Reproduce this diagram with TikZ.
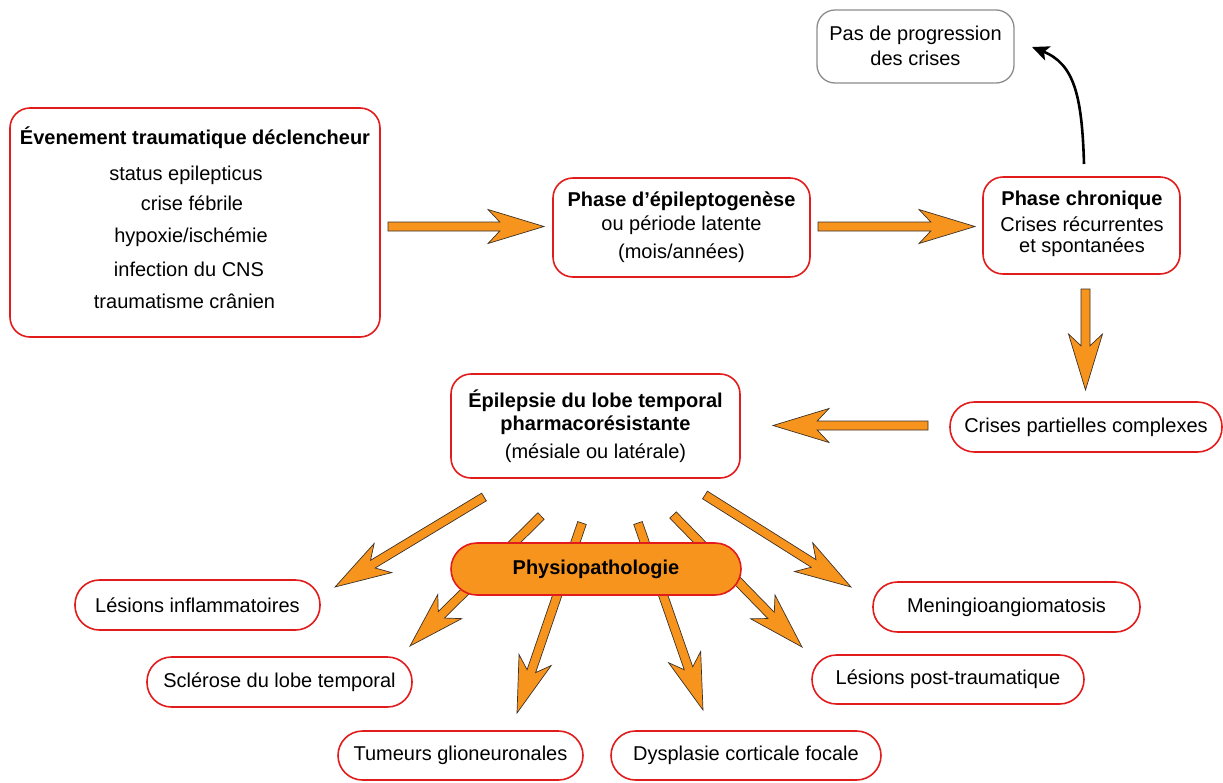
\documentclass[tikz,border=0pt]{standalone}
\usepackage{fontspec}
\setmainfont{Liberation Sans}
\usetikzlibrary{calc,arrows.meta}
\definecolor{bred}{RGB}{226,28,28}
\definecolor{orng}{RGB}{247,148,30}
\definecolor{outl}{RGB}{60,50,40}
\definecolor{gbord}{RGB}{140,140,140}
\tikzset{
  box/.style={draw=bred, line width=1.6pt, rounded corners=20pt, fill=white, inner sep=0pt},
  graybox/.style={draw=gbord, line width=1.3pt, rounded corners=18pt, fill=white, inner sep=0pt},
  pill/.style={draw=bred, line width=1.6pt, rounded corners=24.5pt, fill=white, inner sep=0pt,
     font=\fontsize{20}{24}\selectfont},
  phys/.style={draw=bred, line width=1.6pt, rounded corners=26pt, fill=orng, inner sep=0pt,
     font=\fontsize{20}{24}\selectfont\bfseries},
  fat/.style={draw=outl, line width=0.7pt, fill=orng, line join=miter},
  txt/.style={font=\fontsize{20}{24}\selectfont, inner sep=0pt},
  btxt/.style={font=\fontsize{20}{24}\selectfont\bfseries, inner sep=0pt},
  curv/.style={line width=2.6pt, -{Stealth[length=17pt,width=15pt,inset=4pt]}},
}
\newcommand\fatarrow[2]{%
  \path let \p1=($(#2)-(#1)$) in \pgfextra{%
    \pgfmathsetmacro\faang{atan2(\y1,\x1)}%
    \pgfmathsetmacro\falen{veclen(\x1,\y1)}%
    \global\let\faang\faang \global\let\falen\falen};
  \draw[fat,shift={(#1)},rotate=\faang,x=1pt,y=1pt]
    (0,-4.5) -- ({\falen-44.2},-4.5) -- ({\falen-56},-17) -- (\falen,0)
    -- ({\falen-56},17) -- ({\falen-44.2},4.5) -- (0,4.5) -- cycle;
}
\begin{document}
\begin{tikzpicture}[x=1pt,y=-1pt]
\useasboundingbox (0,0) rectangle (1223,782);
% arrow end points
\coordinate (a1s) at (388,226.5);  \coordinate (a1e) at (544,226.5);
\coordinate (a2s) at (818,226.5);  \coordinate (a2e) at (975,226.5);
\coordinate (a3s) at (1085.5,289); \coordinate (a3e) at (1085.5,390);
\coordinate (a4s) at (928,425.5);  \coordinate (a4e) at (773,425.5);
\coordinate (ras) at (484,497);    \coordinate (rae) at (335,587);
\coordinate (rbs) at (541,516);    \coordinate (rbe) at (410,646);
\coordinate (rcs) at (582,523);    \coordinate (rce) at (517,713);
\coordinate (rds) at (638,523);    \coordinate (rde) at (703,710);
\coordinate (res) at (673,515);    \coordinate (ree) at (802,647);
\coordinate (rfs) at (705,495);    \coordinate (rfe) at (851,587);
\coordinate (cs) at (1084,164);    \coordinate (ce) at (1032,47);

\fatarrow{a1s}{a1e}
\fatarrow{a2s}{a2e}
\fatarrow{a3s}{a3e}
\fatarrow{a4s}{a4e}
\fatarrow{ras}{rae}
\fatarrow{rbs}{rbe}
\fatarrow{rcs}{rce}
\fatarrow{rds}{rde}
\fatarrow{res}{ree}
\fatarrow{rfs}{rfe}

% boxes
\node[box, minimum width=370pt, minimum height=229pt] (evt) at (195,222.5) {};
\node[btxt] (evt0) at (195,138) {Évenement traumatique déclencheur};
\node[txt] (evt1) at (186,175) {status epilepticus};
\node[txt] (evt2) at (192,203) {crise fébrile};
\node[txt] (evt3) at (191,237) {hypoxie/ischémie};
\node[txt] (evt4) at (189,269) {infection du CNS};
\node[txt] (evt5) at (184.5,301) {traumatisme crânien};

\node[box, minimum width=257pt, minimum height=99pt] (epi) at (681.5,227.5) {};
\node[btxt] (epi0) at (681.5,201) {Phase d’épileptogenèse};
\node[txt] (epi1) at (681.5,225) {ou période latente};
\node[txt] (epi2) at (681.5,253) {(mois/années)};

\node[box, minimum width=197pt, minimum height=97pt] (chr) at (1081.5,225.5) {};
\node[btxt] (chr0) at (1082,200) {Phase chronique};
\node[txt] (chr1) at (1082,224) {Crises récurrentes};
\node[txt] (chr2) at (1082,247) {et spontanées};

\node[graybox, minimum width=197pt, minimum height=73pt] (pas) at (915.5,46.5) {};
\node[txt] (pas0) at (915.5,35) {Pas de progression};
\node[txt] (pas1) at (915.5,58) {des crises};

\node[pill, minimum width=272pt, minimum height=50pt] (cpc) at (1086,427) {Crises partielles complexes};

\node[box, minimum width=289pt, minimum height=104pt] (elt) at (595.5,426) {};
\node[btxt] (elt0) at (595.5,401) {Épilepsie du lobe temporal};
\node[btxt] (elt1) at (595.5,425) {pharmacorésistante};
\node[txt] (elt2) at (595.5,453) {(mésiale ou latérale)};

\node[phys, minimum width=290pt, minimum height=52pt] (phy) at (596,569) {Physiopathologie};

\node[pill, minimum width=245pt, minimum height=50pt] (li) at (197.5,605) {Lésions inflammatoires};
\node[pill, minimum width=265pt, minimum height=50pt] (sl) at (279.5,682) {Sclérose du lobe temporal};
\node[pill, minimum width=245pt, minimum height=49pt] (tg) at (460.5,755.5) {Tumeurs glioneuronales};
\node[pill, minimum width=270pt, minimum height=49pt] (dcf) at (746,755.5) {Dysplasie corticale focale};
\node[pill, minimum width=272pt, minimum height=49pt] (lpt) at (948,679.5) {Lésions post-traumatique};
\node[pill, minimum width=267pt, minimum height=50pt] (mg) at (1006.5,607) {Meningioangiomatosis};

\draw[curv] (cs) .. controls (1082,95) and (1074,64) .. (ce);
\end{tikzpicture}
\end{document}
